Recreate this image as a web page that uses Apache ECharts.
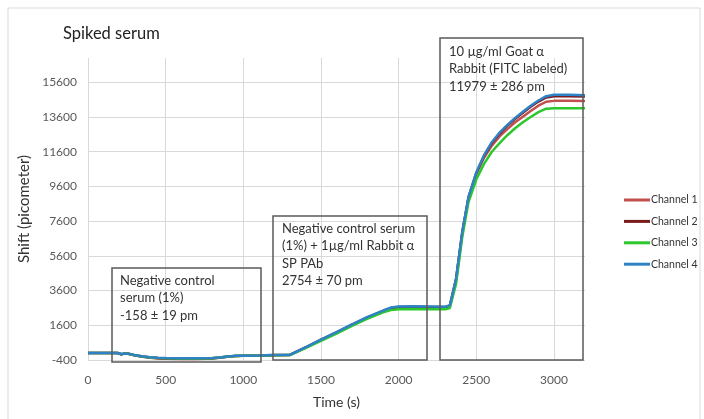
<!DOCTYPE html>
<html>
<head>
<meta charset="utf-8">
<script src="https://cdn.jsdelivr.net/npm/echarts@6/dist/echarts.min.js"></script>
<style>html,body{margin:0;padding:0;background:#fff;}#c{width:704px;height:419px;}</style>
</head>
<body>
<div id="c"></div>
<script>
const times = [0,100,190,215,240,260,300,350,400,450,500,600,700,800,850,900,950,1000,1100,1200,1300,1400,1500,1600,1700,1800,1900,1950,2000,2100,2200,2300,2330,2370,2410,2450,2500,2550,2600,2650,2700,2750,2800,2850,2900,2950,3000,3100,3200];
const channel1 = [0,10,0,-70,-20,-40,-130,-210,-270,-310,-330,-340,-340,-320,-270,-210,-170,-160,-150,-120,-110,310,750,1170,1610,2030,2400,2560,2620,2630,2620,2610,2700,4200,6900,8900,10300,11250,11950,12480,12900,13300,13620,13950,14250,14480,14530,14530,14520];
const channel2 = [0,10,0,-70,-20,-40,-125,-200,-255,-290,-310,-320,-320,-305,-260,-205,-165,-155,-145,-115,-105,320,770,1190,1640,2060,2430,2600,2660,2670,2660,2650,2740,4280,6980,8980,10380,11370,12100,12650,13100,13500,13850,14190,14490,14730,14800,14800,14780];
const channel3 = [0,10,0,-70,-20,-40,-125,-200,-250,-285,-300,-310,-310,-295,-255,-200,-165,-155,-145,-120,-115,280,700,1120,1560,1980,2350,2480,2530,2540,2530,2520,2600,4000,6700,8700,10000,10900,11600,12100,12550,12950,13300,13600,13880,14080,14110,14110,14100];
const channel4 = [0,10,0,-70,-20,-40,-120,-190,-240,-270,-290,-300,-300,-290,-250,-200,-160,-150,-140,-110,-100,330,780,1200,1650,2080,2450,2620,2680,2690,2680,2670,2750,4300,7000,9000,10400,11400,12150,12700,13150,13550,13900,14250,14550,14800,14880,14880,14850];
const seriesNames = ['Channel 1','Channel 2','Channel 3','Channel 4'];
const seriesColors = ['#C0504D','#7A1C1C','#2CC72C','#2E83C6'];
const xTicks = [0,500,1000,1500,2000,2500,3000];
const yTicks = [-400,1600,3600,5600,7600,9600,11600,13600,15600];
const annotation1 = ['Negative control','serum (1%)','-158 ± 19 pm'];
const annotation2 = ['Negative control serum','(1%) + 1µg/ml Rabbit α','SP PAb','2754 ± 70 pm'];
const annotation3 = ['10 µg/ml Goat α','Rabbit (FITC labeled)','11979 ± 286 pm'];

const allData = [channel1, channel2, channel3, channel4];
const chart = echarts.init(document.getElementById('c'), null, {renderer:'canvas'});
const font = 'Lato, "Open Sans", sans-serif';

const series = seriesNames.map((n,i)=>({
  name:n, type:'line', symbol:'none', smooth:false,
  data: times.map((t,j)=>[t, allData[i][j]]),
  lineStyle:{color:seriesColors[i], width:2.5},
  itemStyle:{color:seriesColors[i]},
  z: 3+i
}));

function box(x,y,w,h){
  return {type:'rect', shape:{x:x,y:y,width:w,height:h}, style:{fill:'none', stroke:'#5a5a5a', lineWidth:1.5}, z:20};
}
function txt(x,y,lines){
  return {type:'text', x:x, y:y, style:{text:lines.join('\n'), font:'13px '+font, fill:'#333', lineHeight:17.5}, z:21};
}

chart.setOption({
  animation:false,
  backgroundColor:'#fff',
  title:{text:'Spiked serum', left:58, top:20, textStyle:{fontFamily:font, fontSize:16.5, fontWeight:'normal', color:'#222'}},
  grid:{left:88, top:58, width:497, height:302, containLabel:false},
  legend:{
    orient:'vertical', left:624, top:193.5, padding:0, itemWidth:26, itemHeight:3, itemGap:8.4, icon:'rect',
    textStyle:{fontFamily:font, fontSize:10.5, color:'#333', lineHeight:13, padding:[0,0,0,-4]},
    data:seriesNames
  },
  xAxis:{
    type:'value', min:0, max:3200, interval:500,
    name:'Time (s)', nameLocation:'middle', nameGap:35,
    nameTextStyle:{fontFamily:font, fontSize:14, color:'#333'},
    axisLine:{show:false}, axisTick:{show:false},
    axisLabel:{fontFamily:font, fontSize:12, color:'#595959', margin:14, showMaxLabel:false,
      formatter:v=> xTicks.includes(v)? String(v):''},
    splitLine:{show:true, showMaxLine:false, lineStyle:{color:'#D9D9D9', width:1}}
  },
  yAxis:{
    type:'value', min:-400, max:17000, interval:2000,
    name:'Shift (picometer)', nameLocation:'middle', nameGap:54, nameRotate:90,
    nameTextStyle:{fontFamily:font, fontSize:15, color:'#333'},
    axisLine:{show:false}, axisTick:{show:false},
    axisLabel:{fontFamily:font, fontSize:12, color:'#595959', margin:11, showMaxLabel:false,
      formatter:v=> yTicks.includes(v)? String(v):''},
    splitLine:{show:true, showMaxLine:false, lineStyle:{color:'#D9D9D9', width:1}}
  },
  graphic:[
    {type:'rect', shape:{x:8,y:8,width:692,height:430}, style:{fill:'none', stroke:'#D9D9D9', lineWidth:1}, z:0, silent:true},
    box(112,268,149,94), txt(120,272,annotation1),
    box(273,216,154,144), txt(282,220,annotation2),
    box(440,38,143,322), txt(449,43,annotation3)
  ],
  series:series
});
</script>
</body>
</html>
